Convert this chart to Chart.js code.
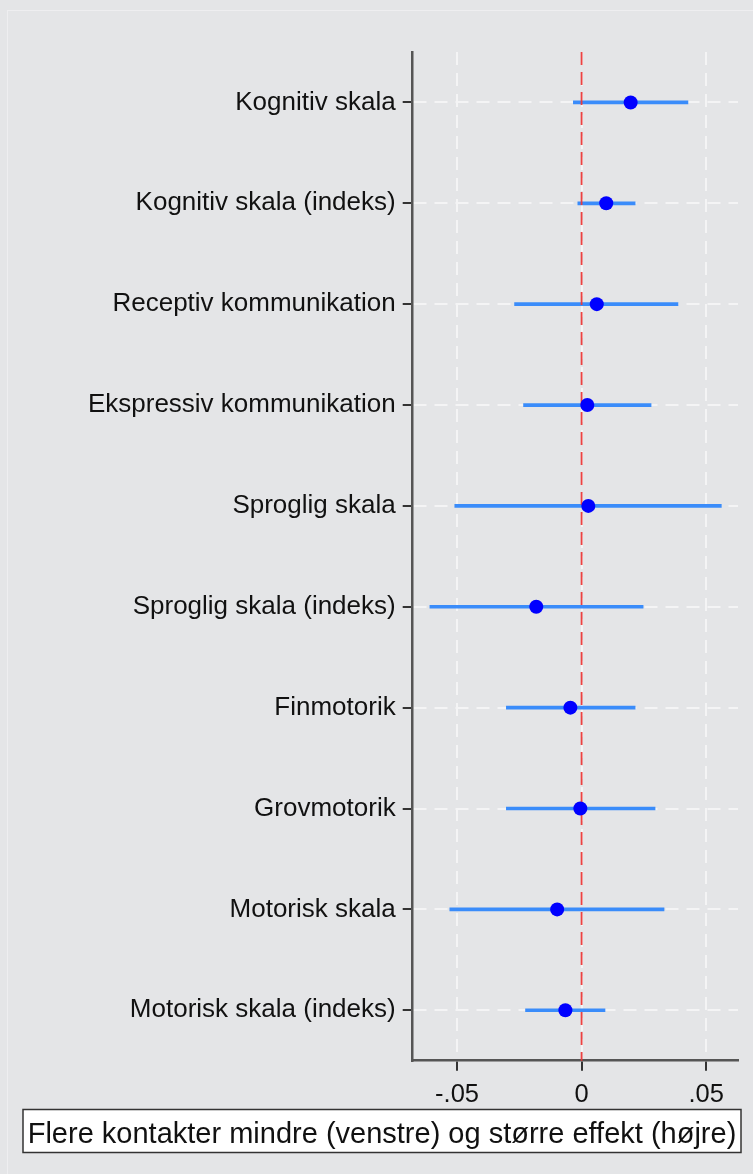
<!DOCTYPE html>
<html>
<head>
<meta charset="utf-8">
<script src="https://cdn.jsdelivr.net/npm/chart.js@4/dist/chart.umd.min.js"></script>
<style>
  html, body { margin: 0; padding: 0; background: #e4e5e7; }
  #wrap { position: relative; width: 753px; height: 1174px; overflow: hidden; }
  #frame { position: absolute; left: 7px; top: 10px; right: -2px; bottom: -2px;
           border-left: 1px solid #eeeef0; border-top: 1px solid #eeeef0; }
  canvas { position: absolute; left: 0; top: 0; }
</style>
</head>
<body>
<div id="wrap">
  <div id="frame"></div>
  <canvas id="c" width="753" height="1174"></canvas>
</div>
<script>
// Outcome scales, top to bottom
const categories = [
  'Kognitiv skala',
  'Kognitiv skala (indeks)',
  'Receptiv kommunikation',
  'Ekspressiv kommunikation',
  'Sproglig skala',
  'Sproglig skala (indeks)',
  'Finmotorik',
  'Grovmotorik',
  'Motorisk skala',
  'Motorisk skala (indeks)'
];

// Point estimates and 95% confidence bounds
const estimates = [0.0197, 0.0099, 0.0061, 0.0023, 0.0027, -0.0182, -0.0045, -0.0005, -0.0098, -0.0065];
const lowerCI   = [-0.0033, -0.0015, -0.0269, -0.0233, -0.0509, -0.0609, -0.0302, -0.0302, -0.0529, -0.0225];
const upperCI   = [0.0427, 0.0215, 0.0387, 0.0279, 0.0561, 0.0247, 0.0215, 0.0295, 0.0331, 0.0094];

// Horizontal axis ticks
const xTickValues = [-0.05, 0, 0.05];
const xTickLabels = ['-.05', '0', '.05'];

// Zero-effect reference
const referenceValue = 0;

const noteText = 'Flere kontakter mindre (venstre) og større effekt (højre)';

const FONT = "'Liberation Sans', Arial, sans-serif";

// Dashed vertical line at the reference value, drawn under the point markers
const referenceLine = {
  id: 'referenceLine',
  beforeDatasetDraw(chart, args) {
    if (args.meta.type !== 'scatter') return;
    const { ctx, chartArea } = chart;
    const x = chart.scales.x.getPixelForValue(referenceValue);
    ctx.save();
    ctx.strokeStyle = 'rgba(236, 56, 56, 0.95)';
    ctx.lineWidth = 1.8;
    ctx.setLineDash([13, 7]);
    ctx.beginPath();
    ctx.moveTo(x, chartArea.top);
    ctx.lineTo(x, chartArea.bottom);
    ctx.stroke();
    ctx.restore();
  }
};

// Boxed note under the plot
const noteBox = {
  id: 'noteBox',
  afterDraw(chart) {
    const { ctx } = chart;
    const left = 23, top = 1109.5, right = 741, bottom = 1152.5;
    ctx.save();
    ctx.fillStyle = '#ffffff';
    ctx.fillRect(left, top, right - left, bottom - top);
    ctx.strokeStyle = '#333333';
    ctx.lineWidth = 1.5;
    ctx.strokeRect(left, top, right - left, bottom - top);
    ctx.fillStyle = '#111111';
    ctx.font = '29px ' + FONT;
    ctx.textAlign = 'center';
    ctx.textBaseline = 'alphabetic';
    ctx.fillText(noteText, (left + right) / 2, 1142.5);
    ctx.restore();
  }
};

new Chart(document.getElementById('c'), {
  type: 'bar',
  data: {
    labels: categories,
    datasets: [
      {
        type: 'scatter',
        data: estimates.map((v, i) => ({ x: v, y: categories[i] })),
        backgroundColor: '#0000ff',
        borderColor: '#0000ff',
        borderWidth: 0,
        pointRadius: 7,
        pointHoverRadius: 7,
        order: 0
      },
      {
        type: 'bar',
        indexAxis: 'y',
        data: lowerCI.map((lo, i) => [lo, upperCI[i]]),
        backgroundColor: '#3a8cfa',
        borderWidth: 0,
        barThickness: 3,
        order: 1
      }
    ]
  },
  options: {
    indexAxis: 'y',
    responsive: false,
    animation: false,
    layout: { padding: { left: 0, top: 52, right: 15, bottom: 0 } },
    plugins: {
      legend: { display: false },
      tooltip: { enabled: false },
      title: { display: false }
    },
    scales: {
      x: {
        type: 'linear',
        min: -0.0678,
        max: 0.0628,
        afterBuildTicks(scale) {
          scale.ticks = xTickValues.map(v => ({ value: v }));
        },
        afterFit(scale) { scale.height = 113.3; },
        ticks: {
          callback: (v, i) => xTickLabels[i],
          color: '#111111',
          font: { family: FONT, size: 25.5 },
          padding: 9,
          maxRotation: 0
        },
        grid: {
          color: '#f4f4f5',
          lineWidth: 2,
          drawTicks: true,
          tickLength: 10,
          tickColor: '#333333',
          tickWidth: 2
        },
        border: { display: true, color: '#555555', width: 2.5, dash: [13, 8] }
      },
      y: {
        type: 'category',
        offset: true,
        position: 'left',
        afterFit(scale) { scale.width = 412.7; },
        ticks: {
          color: '#111111',
          font: { family: FONT, size: 26 },
          padding: 7,
          autoSkip: false
        },
        grid: {
          offset: false,
          color: '#f4f4f5',
          lineWidth: 2,
          drawTicks: true,
          tickLength: 10,
          tickColor: '#333333',
          tickWidth: 2
        },
        border: { display: true, color: '#555555', width: 2.5, dash: [13, 8] }
      }
    }
  },
  plugins: [referenceLine, noteBox]
});
</script>
</body>
</html>
